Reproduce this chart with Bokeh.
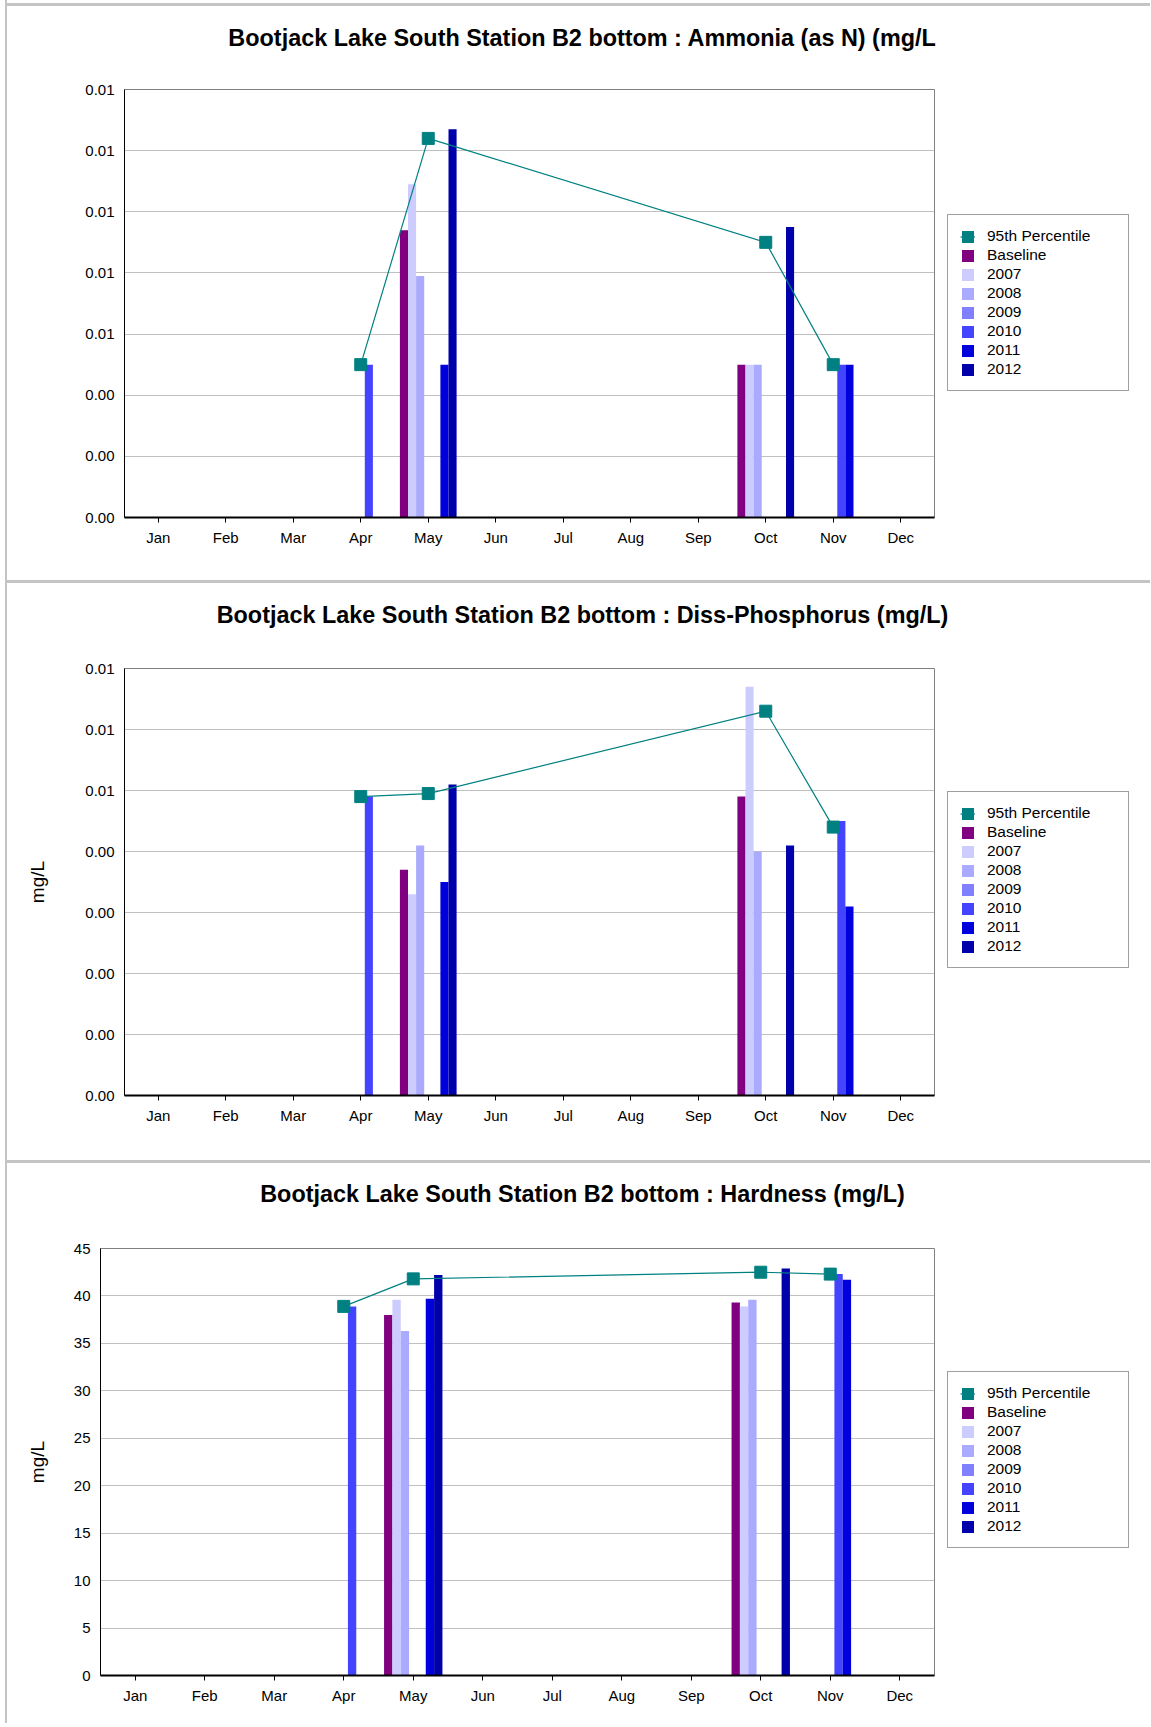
from bokeh.plotting import figure
from bokeh.models import (FactorRange, Range1d, ColumnDataSource, Legend, LegendItem,
                          Spacer, FixedTicker, Label)
from bokeh.layouts import column, row
from bokeh.transform import dodge
from bokeh.embed import file_html
from bokeh.resources import INLINE

# ---------------- data ----------------
months = ["Jan", "Feb", "Mar", "Apr", "May", "Jun", "Jul", "Aug", "Sep", "Oct", "Nov", "Dec"]
series_names = ["Baseline", "2007", "2008", "2009", "2010", "2011", "2012"]
series_colors = ["#800080", "#CCCCFF", "#AAAAFF", "#8080FF", "#4444FF", "#0000DD", "#0000AA"]
pct_label = "95th Percentile"
pct_color = "#008080"
N = None

# Ammonia (as N) (mg/L)
nh3_title = "Bootjack Lake South Station B2 bottom : Ammonia (as N) (mg/L"
nh3_baseline = [N, N, N, N, 0.0094, N, N, N, N, 0.0050, N, N]
nh3_2007 = [N, N, N, N, 0.0109, N, N, N, N, 0.0050, N, N]
nh3_2008 = [N, N, N, N, 0.0079, N, N, N, N, 0.0050, N, N]
nh3_2009 = [N, N, N, N, N, N, N, N, N, N, N, N]
nh3_2010 = [N, N, N, 0.0050, N, N, N, N, N, N, 0.0050, N]
nh3_2011 = [N, N, N, N, 0.0050, N, N, N, N, N, 0.0050, N]
nh3_2012 = [N, N, N, N, 0.0127, N, N, N, N, 0.0095, N, N]
nh3_pct95 = [N, N, N, 0.0050, 0.0124, N, N, N, N, 0.0090, 0.0050, N]
nh3_ticks = [0.0, 0.002, 0.004, 0.006, 0.008, 0.010, 0.012, 0.014]
nh3_tick_labels = ["0.00", "0.00", "0.00", "0.01", "0.01", "0.01", "0.01", "0.01"]

# Diss-Phosphorus (mg/L)
p_title = "Bootjack Lake South Station B2 bottom : Diss-Phosphorus (mg/L)"
p_baseline = [N, N, N, N, 0.0037, N, N, N, N, 0.0049, N, N]
p_2007 = [N, N, N, N, 0.0033, N, N, N, N, 0.0067, N, N]
p_2008 = [N, N, N, N, 0.0041, N, N, N, N, 0.0040, N, N]
p_2009 = [N, N, N, N, N, N, N, N, N, N, N, N]
p_2010 = [N, N, N, 0.0049, N, N, N, N, N, N, 0.0045, N]
p_2011 = [N, N, N, N, 0.0035, N, N, N, N, N, 0.0031, N]
p_2012 = [N, N, N, N, 0.0051, N, N, N, N, 0.0041, N, N]
p_pct95 = [N, N, N, 0.0049, 0.00495, N, N, N, N, 0.0063, 0.0044, N]
p_ticks = [0.0, 0.001, 0.002, 0.003, 0.004, 0.005, 0.006, 0.007]
p_tick_labels = ["0.00", "0.00", "0.00", "0.00", "0.00", "0.01", "0.01", "0.01"]

# Hardness (mg/L)
h_title = "Bootjack Lake South Station B2 bottom : Hardness (mg/L)"
h_baseline = [N, N, N, N, 38.0, N, N, N, N, 39.3, N, N]
h_2007 = [N, N, N, N, 39.6, N, N, N, N, 38.9, N, N]
h_2008 = [N, N, N, N, 36.3, N, N, N, N, 39.6, N, N]
h_2009 = [N, N, N, N, N, N, N, N, N, N, N, N]
h_2010 = [N, N, N, 38.9, N, N, N, N, N, N, 42.3, N]
h_2011 = [N, N, N, N, 39.7, N, N, N, N, N, 41.7, N]
h_2012 = [N, N, N, N, 42.2, N, N, N, N, 42.9, N, N]
h_pct95 = [N, N, N, 38.9, 41.8, N, N, N, N, 42.5, 42.3, N]
h_ticks = [0, 5, 10, 15, 20, 25, 30, 35, 40, 45]
h_tick_labels = ["0", "5", "10", "15", "20", "25", "30", "35", "40", "45"]

FONT = "Liberation Sans"
BAR_W = 0.12
INNER_W = 1143          # width right of the left border line
MAIN_W = 931            # chart figure width
LEG_W = INNER_W - MAIN_W
TITLE_H = 60
SEP_COLOR = "#c4c4c4"
NAN = float("nan")


def sep(w, h):
    return Spacer(width=w, height=h, styles={"background-color": SEP_COLOR})


def title_fig(text, y_center_from_top):
    t = figure(width=INNER_W, height=TITLE_H, output_backend="svg", toolbar_location=None,
               x_range=Range1d(0, INNER_W), y_range=Range1d(0, TITLE_H),
               x_axis_type=None, y_axis_type=None, min_border=0)
    t.outline_line_color = None
    t.grid.visible = False
    t.add_layout(Label(x=575, y=TITLE_H - y_center_from_top, text=text,
                       text_align="center", text_baseline="middle",
                       text_font=FONT, text_font_style="bold", text_font_size="23.4px",
                       text_color="black"))
    return t


def main_fig(series_vals, pct_vals, ticks, tick_labels, ylabel, fig_h, b_top, b_bottom,
             b_left, ylabel_standoff):
    p = figure(x_range=FactorRange(*months, range_padding=0),
               y_range=Range1d(ticks[0], ticks[-1]),
               width=MAIN_W, height=fig_h, output_backend="svg", toolbar_location=None,
               min_border_left=b_left, min_border_right=4,
               min_border_top=b_top, min_border_bottom=b_bottom)
    p.background_fill_color = "white"
    p.border_fill_color = "white"
    p.outline_line_color = "#808080"
    p.outline_line_width = 1

    nser = len(series_names)
    for i, (col, vals) in enumerate(zip(series_colors, series_vals)):
        xs = [m for m, v in zip(months, vals) if v is not None]
        ys = [v for v in vals if v is not None]
        src = ColumnDataSource(dict(month=xs, val=ys))
        off = (i - (nser - 1) / 2) * BAR_W
        p.vbar(x=dodge("month", off, range=p.x_range), top="val", bottom=0,
               width=BAR_W, source=src, fill_color=col, line_color=None)

    pxs = [m for m, v in zip(months, pct_vals) if v is not None]
    pys = [v for v in pct_vals if v is not None]
    psrc = ColumnDataSource(dict(month=pxs, val=pys))
    p.line(x="month", y="val", source=psrc, line_color=pct_color, line_width=1.2)
    p.scatter(x="month", y="val", source=psrc, marker="square", size=12,
              fill_color=pct_color, line_color=pct_color)

    p.xgrid.grid_line_color = None
    p.ygrid.grid_line_color = "#c0c0c0"
    p.ygrid.grid_line_width = 1

    p.yaxis.ticker = FixedTicker(ticks=ticks)
    p.yaxis.major_label_overrides = {t: l for t, l in zip(ticks, tick_labels)}
    p.yaxis.axis_line_color = "black"
    p.yaxis.axis_line_width = 1
    p.yaxis.major_tick_out = 0
    p.yaxis.major_tick_in = 0
    p.yaxis.minor_tick_out = 0
    p.yaxis.minor_tick_in = 0
    p.yaxis.major_label_standoff = 10
    p.yaxis.major_label_text_font = FONT
    p.yaxis.major_label_text_font_size = "15px"
    p.yaxis.major_label_text_color = "black"
    if ylabel:
        p.yaxis.axis_label = ylabel
        p.yaxis.axis_label_text_font = FONT
        p.yaxis.axis_label_text_font_size = "19px"
        p.yaxis.axis_label_text_font_style = "normal"
        p.yaxis.axis_label_text_color = "black"
        p.yaxis.axis_label_standoff = ylabel_standoff

    p.xaxis.axis_line_color = "black"
    p.xaxis.axis_line_width = 2
    p.xaxis.major_tick_out = 5
    p.xaxis.major_tick_in = 0
    p.xaxis.major_tick_line_color = "black"
    p.xaxis.major_label_standoff = 6
    p.xaxis.major_label_text_font = FONT
    p.xaxis.major_label_text_font_size = "15px"
    p.xaxis.major_label_text_color = "black"
    return p


def legend_fig(fig_h, loc):
    lf = figure(width=LEG_W, height=fig_h, output_backend="svg", toolbar_location=None,
                x_range=Range1d(0, 1), y_range=Range1d(0, 1),
                x_axis_type=None, y_axis_type=None, min_border=0)
    lf.outline_line_color = None
    lf.grid.visible = False
    empty = ColumnDataSource(dict(x=[NAN], y=[NAN]))
    lr = lf.line(x="x", y="y", source=empty, line_color=pct_color, line_width=1.2)
    sq = lf.rect(x="x", y="y", width=0.1, height=0.1, source=empty,
                 fill_color=pct_color, line_color=None)
    items = [LegendItem(label=pct_label, renderers=[lr, sq])]
    for name, col in zip(series_names, series_colors):
        r = lf.vbar(x="x", top="y", width=0.1, source=empty, fill_color=col, line_color=None)
        items.append(LegendItem(label=name, renderers=[r]))
    legend = Legend(items=items, location=loc,
                    glyph_width=15, glyph_height=15, label_height=15, label_width=129,
                    label_standoff=12, spacing=1, padding=12, margin=0,
                    label_text_font=FONT, label_text_font_size="15.5px",
                    label_text_color="black",
                    border_line_color="#404040", border_line_width=1,
                    background_fill_color="white", background_fill_alpha=1)
    lf.add_layout(legend, "center")
    return lf


def panel_roots(title, title_y, series_vals, pct_vals, ticks, tick_labels, ylabel,
                main_h, b_top, b_bottom, b_left, ylabel_standoff, leg_y, lead_gap):
    head = [Spacer(width=INNER_W, height=lead_gap)] if lead_gap else []
    head_h = lead_gap + 3 + TITLE_H
    rA = row(Spacer(width=5, height=head_h), sep(2, head_h),
             column(*head, sep(INNER_W, 3), title_fig(title, title_y), spacing=0), spacing=0)
    m = main_fig(series_vals, pct_vals, ticks, tick_labels, ylabel, main_h, b_top,
                 b_bottom, b_left, ylabel_standoff)
    lg = legend_fig(main_h, (9, leg_y))
    rB = row(Spacer(width=5, height=main_h), sep(2, main_h), m, lg, spacing=0)
    return [rA, rB]


roots = []
roots += panel_roots(nh3_title, 31,
                     [nh3_baseline, nh3_2007, nh3_2008, nh3_2009, nh3_2010, nh3_2011, nh3_2012],
                     nh3_pct95, nh3_ticks, nh3_tick_labels, None,
                     514, 23, 63, 117, 34, 126, 3)
roots += panel_roots(p_title, 31.6,
                     [p_baseline, p_2007, p_2008, p_2009, p_2010, p_2011, p_2012],
                     p_pct95, p_ticks, p_tick_labels, "mg/L",
                     517, 25, 65, 117, 34, 127, 0)
roots += panel_roots(h_title, 30,
                     [h_baseline, h_2007, h_2008, h_2009, h_2010, h_2011, h_2012],
                     h_pct95, h_ticks, h_tick_labels, "mg/L",
                     500, 25, 48, 93, 23, 127, 0)

open("out.html", "w").write(file_html(roots, INLINE))
